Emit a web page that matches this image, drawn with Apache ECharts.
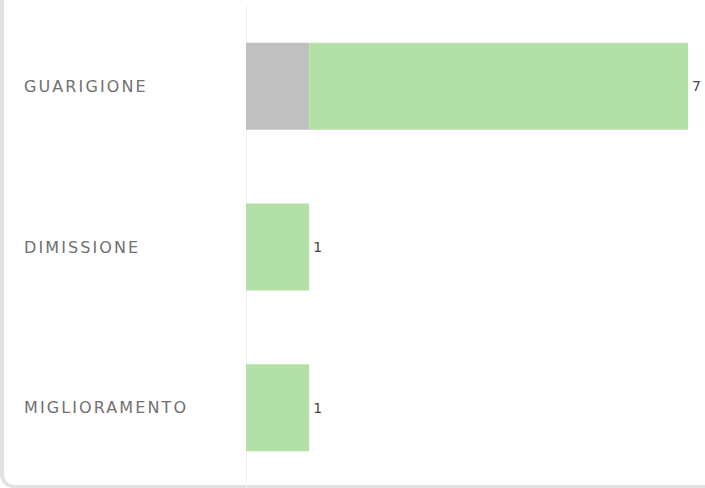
<!DOCTYPE html>
<html><head><meta charset="utf-8">
<script src="https://cdn.jsdelivr.net/npm/echarts@6/dist/echarts.min.js"></script>
<style>
html,body{margin:0;padding:0;background:#fff;overflow:hidden;}
#card{position:absolute;left:0;top:-30px;width:760px;height:518px;border-left:4px solid #e2e2e2;border-bottom:3px solid #e2e2e2;border-radius:14px;box-sizing:border-box;}
#main{position:absolute;left:0;top:0;width:705px;height:488px;}
#main svg text{letter-spacing:2.1px;}
</style></head>
<body>
<div id="card"></div>
<div id="main"></div>
<script>
const categories = ['GUARIGIONE', 'DIMISSIONE', 'MIGLIORAMENTO'];
const grayValues = [1, 0, 0];
const greenValues = [6, 1, 1];
const totals = categories.map((c, i) => grayValues[i] + greenValues[i]);

const chart = echarts.init(document.getElementById('main'), null, { renderer: 'svg' });
chart.setOption({
  animation: false,
  grid: { left: 246, right: 17, top: 6, bottom: -1, containLabel: false },
  xAxis: { type: 'value', min: 0, max: 7, show: false },
  yAxis: {
    type: 'category', data: categories, inverse: true,
    axisLine: { show: true, lineStyle: { color: '#f2f2f2', width: 1 } },
    axisTick: { show: false },
    axisLabel: { align: 'left', margin: 222, color: '#707070', fontSize: 16, fontFamily: 'DejaVu Sans', padding: [4, 0, 0, 0] }
  },
  series: [
    { type: 'bar', stack: 's', data: grayValues, barWidth: 87, itemStyle: { color: '#c0c0c0' } },
    { type: 'bar', stack: 's', data: greenValues, barWidth: 87, itemStyle: { color: '#b3e0a6' },
      label: { show: true, position: 'right', distance: 4, color: '#444', fontSize: 14, fontFamily: 'DejaVu Sans', padding: [3, 0, 0, 0],
        formatter: p => String(totals[p.dataIndex]) } }
  ]
});
</script>
</body></html>
